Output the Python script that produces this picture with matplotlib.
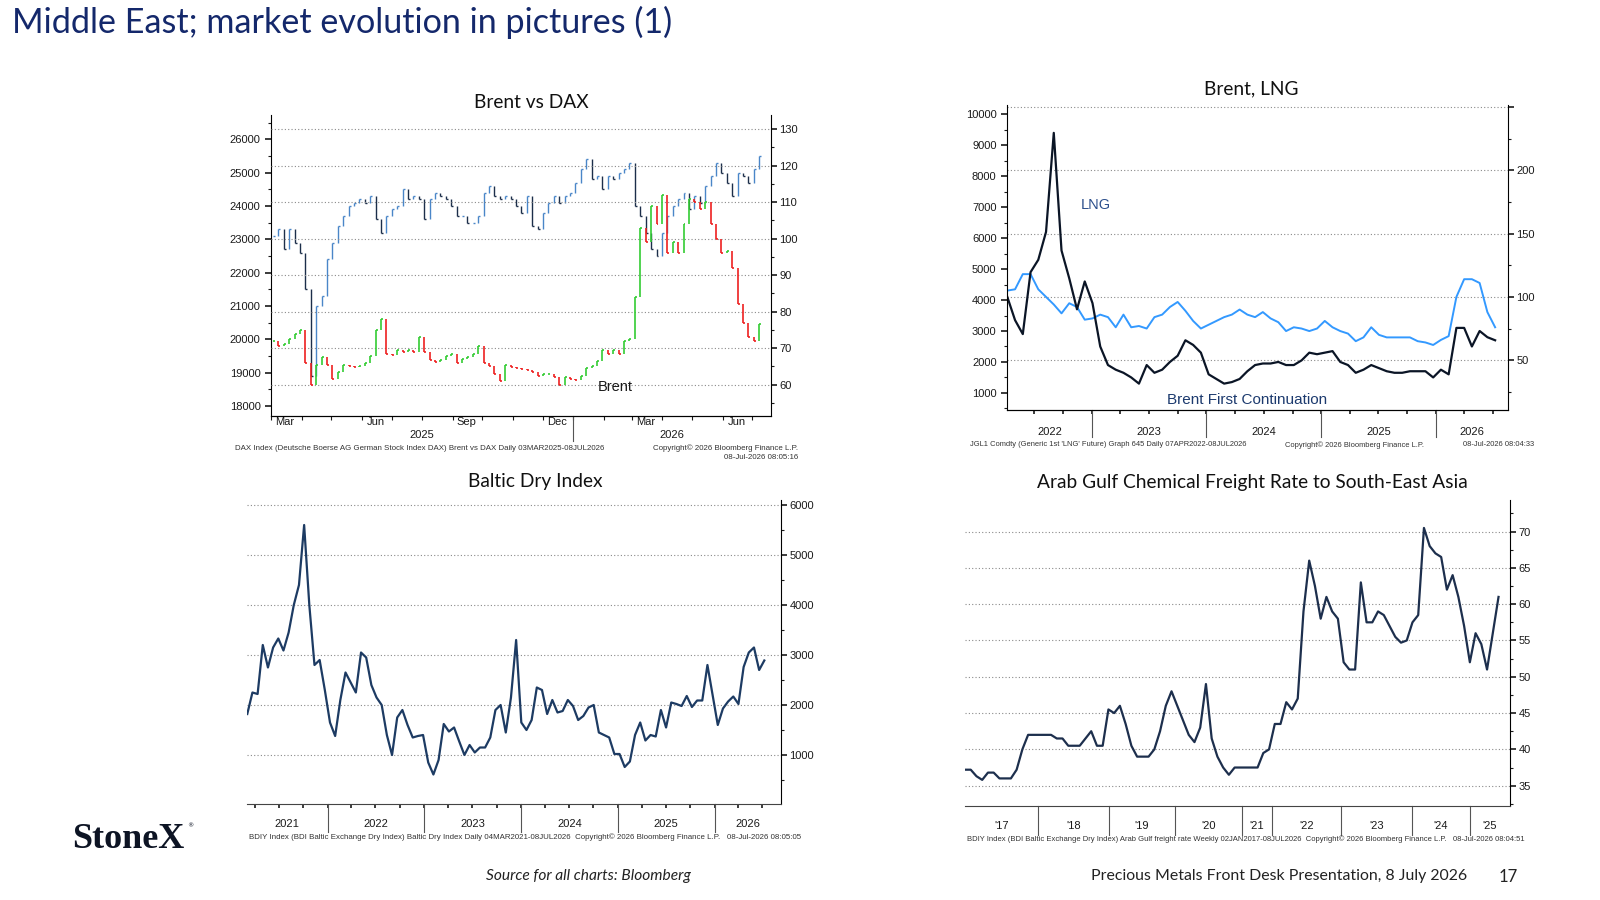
import numpy as np
import pandas as pd
import matplotlib
matplotlib.use("Agg")
import matplotlib.pyplot as plt
import matplotlib.dates as mdates
from matplotlib.ticker import MultipleLocator, FixedLocator

# ---- data ----
# Brent vs DAX, weekly-ish closes 03MAR2025-08JUL2026
dax_close = [23100, 23300, 22700, 23300, 22900, 22600, 21500, 18900, 21000, 21300,
             22400, 22900, 23400, 23700, 24000, 24100, 24200, 24100, 24300, 23600,
             23200, 23700, 23900, 24000, 24500, 24200, 24300, 24200, 23600, 24200,
             24400, 24300, 24200, 24000, 23700, 23700, 23500, 23500, 23700, 24400,
             24600, 24300, 24200, 24300, 24200, 24000, 23800, 24300, 23400, 23300,
             23800, 24100, 24300, 24100, 24300, 24400, 24700, 25100, 25400, 24800,
             24900, 24500, 24900, 24800, 25000, 25100, 25300, 24000, 23700, 23200,
             22700, 22500, 23200, 23700, 24000, 24200, 24400, 23900, 24300, 24100,
             24600, 24900, 25300, 25000, 24700, 24300, 25000, 24900, 24700, 25100,
             25500]
brent_close = [72.0, 70.5, 71.2, 72.5, 73.8, 75.0, 66.0, 60.0, 65.5, 67.5,
               65.5, 61.5, 63.5, 65.5, 65.0, 64.8, 65.2, 65.8, 67.8, 75.0,
               78.0, 68.5, 68.0, 69.5, 69.0, 69.5, 69.0, 73.0, 69.0, 66.8,
               66.3, 66.8, 67.8, 68.5, 66.0, 67.0, 67.5, 68.5, 70.5, 66.0,
               65.0, 63.0, 61.0, 65.5, 64.8, 64.5, 64.3, 63.9, 63.5, 62.5,
               63.0, 63.0, 62.2, 60.0, 62.0, 61.5, 61.2, 62.5, 64.5, 65.2,
               66.5, 69.5, 68.5, 69.4, 68.5, 72.0, 72.5, 84.0, 103.0, 99.0,
               109.0, 104.0, 112.0, 96.0, 99.0, 96.0, 104.0, 111.0, 110.0, 108.0,
               110.0, 104.0, 100.0, 96.0, 96.5, 92.0, 82.0, 77.0, 73.0, 72.0,
               76.5]

# Brent, LNG 07APR2022-08JUL2026
lng = [4100, 3350, 2900, 4900, 5300, 6200, 9400, 5600, 4700, 3700,
       4600, 3900, 2500, 1900, 1750, 1650, 1500, 1300, 1900, 1650,
       1750, 2000, 2200, 2700, 2550, 2300, 1600, 1450, 1300, 1350,
       1450, 1700, 1900, 1950, 1950, 2000, 1900, 1900, 2050, 2300,
       2250, 2300, 2350, 2000, 1900, 1650, 1750, 1900, 1800, 1700,
       1650, 1650, 1700, 1700, 1700, 1500, 1750, 1600, 3100, 3100,
       2500, 3000, 2800, 2700]
brent_first = [105, 106, 118, 118, 106, 100, 94, 87, 95, 92,
               82, 83, 86, 84, 76, 86, 76, 77, 75, 84,
               86, 92, 96, 89, 81, 75, 78, 81, 84, 86,
               90, 86, 84, 88, 83, 80, 73, 76, 75, 73,
               75, 81, 76, 73, 71, 65, 68, 76, 70, 68,
               68, 68, 68, 65, 64, 62, 66, 69, 100, 114,
               114, 111, 88, 76]

# Baltic Dry Index 04MAR2021-08JUL2026
bdi = [1820, 2250, 2220, 3200, 2750, 3150, 3330, 3090, 3450, 4000,
       4400, 5600, 4000, 2800, 2900, 2300, 1650, 1380, 2100, 2650,
       2450, 2250, 3050, 2950, 2400, 2150, 2000, 1400, 1000, 1750,
       1900, 1600, 1350, 1380, 1400, 850, 610, 900, 1620, 1470,
       1550, 1270, 1000, 1200, 1050, 1150, 1150, 1350, 1900, 2000,
       1450, 2150, 3300, 1650, 1500, 1700, 2350, 2300, 1820, 2100,
       1850, 1880, 2100, 1980, 1700, 1780, 1950, 2000, 1450, 1400,
       1350, 1020, 1020, 760, 870, 1400, 1650, 1290, 1400, 1370,
       1900, 1550, 2050, 2020, 1980, 2180, 1960, 2090, 2090, 2800,
       2200, 1600, 1930, 2070, 2170, 2020, 2760, 3050, 3150, 2700,
       2890]

# Arab Gulf chemical freight rate to SE Asia, weekly observations
freight = [37.2, 37.2, 36.3, 35.8, 36.8, 36.8, 36.0, 36.0, 36.0, 37.2,
           40.0, 42.0, 42.0, 42.0, 42.0, 42.0, 41.5, 41.5, 40.5, 40.5,
           40.5, 41.5, 42.5, 40.5, 40.5, 45.5, 45.0, 46.0, 43.5, 40.5,
           39.0, 39.0, 39.0, 40.0, 42.5, 46.0, 48.0, 46.0, 44.0, 42.0,
           41.0, 43.0, 49.0, 41.5, 39.0, 37.5, 36.5, 37.5, 37.5, 37.5,
           37.5, 37.5, 39.5, 40.0, 43.5, 43.5, 46.5, 45.5, 47.0, 59.0,
           66.0, 62.5, 58.0, 61.0, 59.0, 58.0, 52.0, 51.0, 51.0, 63.0,
           57.5, 57.5, 59.0, 58.5, 57.0, 55.5, 54.7, 55.0, 57.5, 58.5,
           70.5, 68.0, 67.0, 66.5, 62.0, 64.0, 61.0, 57.0, 52.0, 56.0,
           54.5, 51.0, 56.0, 61.0]
# observation index where each new year starts on the freight chart
freight_year_breaks = [12.67, 25.13, 36.6, 48.33, 53.53, 65.53, 77.87, 88.0]
freight_years = ["'17", "'18", "'19", "'20", "'21", "'22", "'23", "'24", "'25"]

W, H = 1600, 900
TICK_FONT = "Liberation Sans"
NAVY = "#14286b"
GRID = dict(color="#8a8a8a", linestyle=(0, (1, 2)), linewidth=0.8)


def rect(l, t, r, b):
    return [l / W, 1 - b / H, (r - l) / W, (b - t) / H]


def style_ticks(ax):
    ax.tick_params(which="both", direction="out", labelsize=8, colors="#1a1a1a")
    ax.tick_params(which="major", length=4, width=1.2)
    ax.tick_params(which="minor", length=2.5, width=0.8)
    for lab in ax.get_xticklabels() + ax.get_yticklabels():
        lab.set_family(TICK_FONT)


def year_marks(ax, breaks, labels, label_px, sep_px):
    x0, x1 = ax.get_xlim()
    h = ax.get_position().height * H
    tr = ax.get_xaxis_transform()
    edges = [x0] + list(breaks) + [x1]
    for b in breaks:
        ax.plot([b, b], [0, -sep_px / h], transform=tr, color="#555555",
                lw=0.8, clip_on=False)
    for lab, a, b in zip(labels, edges[:-1], edges[1:]):
        ax.text((a + b) / 2, -label_px / h, lab, transform=tr, ha="center",
                va="center", fontsize=8, family=TICK_FONT, color="#1a1a1a")


def bars(ax, x, close, up, down, lw=1.0):
    c = np.asarray(close, dtype=float)
    prev = np.r_[c[0], c[:-1]]
    col = np.where(c >= prev, up, down)
    ax.vlines(x, np.minimum(prev, c), np.maximum(prev, c), colors=col, lw=lw)
    ax.hlines(c, x, x + pd.Timedelta(days=2), colors=col, lw=lw)


def footer(x, y, s, ha="left", size=5.65):
    fig.text(x / W, 1 - y / H, s, ha=ha, va="center", fontsize=size,
             family=TICK_FONT, color="#333333")


def title(x, y, s):
    fig.text(x / W, 1 - y / H, s, ha="center", va="center", fontsize=13.8,
             family="Lato", color="#111111")


fig = plt.figure(figsize=(16, 9), dpi=100)
fig.patch.set_facecolor("white")

# ---------------- Brent vs DAX ----------------
ax1 = fig.add_axes(rect(271, 115, 771, 416))
ax1r = ax1.twinx()
d1 = pd.date_range("2025-03-03", "2026-07-08", periods=len(dax_close))
bars(ax1, d1, dax_close, "#4a86c8", "#1c2e4a")
bars(ax1r, d1, brent_close, "#33cc33", "#ee2020", lw=1.2)
ax1.set_xlim(pd.Timestamp("2025-03-01"), pd.Timestamp("2026-07-20"))
ax1.set_ylim(17695, 26733)
ax1r.set_ylim(51.4, 133.9)
ax1.yaxis.set_major_locator(MultipleLocator(1000))
ax1.yaxis.set_minor_locator(MultipleLocator(500))
ax1r.yaxis.set_major_locator(MultipleLocator(10))
ax1r.yaxis.set_minor_locator(MultipleLocator(5))
ax1r.grid(axis="y", which="major", **GRID)
ax1.xaxis.set_minor_locator(mdates.MonthLocator())
ax1.xaxis.set_major_locator(mdates.MonthLocator(bymonth=[3, 6, 9, 12], bymonthday=15))
ax1.xaxis.set_major_formatter(mdates.DateFormatter("%b"))
for a in (ax1, ax1r):
    a.spines["top"].set_visible(False)
ax1.spines["right"].set_visible(False)
ax1r.spines["left"].set_visible(False)
style_ticks(ax1)
style_ticks(ax1r)
ax1.tick_params(axis="x", which="major", length=0, pad=1)
ax1.tick_params(axis="x", which="minor", length=3)
ax1r.tick_params(axis="y", pad=2)
year_marks(ax1, [mdates.date2num(pd.Timestamp("2026-01-01"))], ["2025", "2026"], 19, 25)
ax1r.text(pd.Timestamp("2026-02-12"), 59.4, "Brent", ha="center", va="center",
          fontsize=10.5, family=TICK_FONT, color="#1a1a1a")
title(531, 102, "Brent vs DAX")
footer(235, 448, "DAX Index (Deutsche Boerse AG German Stock Index DAX) Brent vs DAX Daily 03MAR2025-08JUL2026")
footer(798, 448, "Copyright\u00a9 2026 Bloomberg Finance L.P.", ha="right")
footer(798, 458, "08-Jul-2026 08:05:16", ha="right")

# ---------------- Brent, LNG ----------------
ax2 = fig.add_axes(rect(1007, 105, 1508, 410))
ax2r = ax2.twinx()
ax2.set_zorder(ax2r.get_zorder() + 1)
ax2.patch.set_visible(False)
d2 = pd.date_range("2022-04-07", "2026-07-08", periods=len(lng))
ax2r.plot(d2, brent_first, color="#3399ff", lw=1.4)
ax2.plot(d2, lng, color="#0b1526", lw=1.6)
ax2.set_xlim(pd.Timestamp("2022-04-06"), pd.Timestamp("2026-08-18"))
ax2.set_ylim(448, 10300)
ax2r.set_ylim(10.6, 251.7)
ax2.yaxis.set_major_locator(MultipleLocator(1000))
ax2.yaxis.set_minor_locator(MultipleLocator(500))
ax2r.yaxis.set_major_locator(FixedLocator([50, 100, 150, 200, 250]))
ax2r.yaxis.set_minor_locator(MultipleLocator(25))
ax2r.set_yticklabels(["50", "100", "150", "200", ""])
ax2r.grid(axis="y", which="major", **GRID)
ax2.xaxis.set_major_locator(mdates.MonthLocator(bymonth=[1, 4, 7, 10]))
ax2.xaxis.set_major_formatter(plt.NullFormatter())
for a in (ax2, ax2r):
    a.spines["top"].set_visible(False)
ax2.spines["right"].set_visible(False)
ax2r.spines["left"].set_visible(False)
style_ticks(ax2)
style_ticks(ax2r)
ax2.tick_params(axis="x", which="major", length=3)
ax2r.tick_params(axis="y", pad=2)
y2 = [mdates.date2num(pd.Timestamp(f"{y}-01-01")) for y in range(2023, 2027)]
year_marks(ax2, y2, ["2022", "2023", "2024", "2025", "2026"], 22, 27)
ax2.text(pd.Timestamp("2023-01-13"), 7070, "LNG", ha="center", va="center",
         fontsize=10.5, family=TICK_FONT, color="#2c4f8c")
ax2.text(pd.Timestamp("2024-05-10"), 770, "Brent First Continuation", ha="center",
         va="center", fontsize=11, family=TICK_FONT, color="#1c3a6e")
title(1251, 89, "Brent, LNG")
footer(970, 445, "JGL1 Comdty (Generic 1st 'LNG' Future) Graph 645 Daily 07APR2022-08JUL2026", size=5.4)
footer(1285, 445, "Copyright\u00a9 2026 Bloomberg Finance L.P.", size=5.4)
footer(1534, 445, "08-Jul-2026 08:04:33", ha="right", size=5.4)

# ---------------- Baltic Dry Index ----------------
ax3 = fig.add_axes(rect(247, 500, 781, 804))
d3 = pd.date_range("2021-03-04", "2026-07-08", periods=len(bdi))
ax3.plot(d3, bdi, color="#1d3b63", lw=1.6)
ax3.set_xlim(pd.Timestamp("2021-03-03"), pd.Timestamp("2026-09-09"))
ax3.set_ylim(20, 6100)
ax3.yaxis.tick_right()
ax3.yaxis.set_major_locator(MultipleLocator(1000))
ax3.yaxis.set_minor_locator(MultipleLocator(500))
ax3.grid(axis="y", which="major", **GRID)
ax3.xaxis.set_major_locator(mdates.MonthLocator(bymonth=[1, 4, 7, 10]))
ax3.xaxis.set_major_formatter(plt.NullFormatter())
ax3.spines["top"].set_visible(False)
ax3.spines["left"].set_visible(False)
ax3.spines["bottom"].set_color("#444444")
style_ticks(ax3)
ax3.tick_params(axis="x", which="major", length=3)
ax3.tick_params(axis="y", pad=2)
y3 = [mdates.date2num(pd.Timestamp(f"{y}-01-01")) for y in range(2022, 2027)]
year_marks(ax3, y3, [str(y) for y in range(2021, 2027)], 20, 28)
title(535, 482, "Baltic Dry Index")
footer(249, 837, "BDIY Index (BDI Baltic Exchange Dry Index) Baltic Dry Index Daily 04MAR2021-08JUL2026  "
       "Copyright\u00a9 2026 Bloomberg Finance L.P.   08-Jul-2026 08:05:05", size=5.7)

# ---------------- Arab Gulf freight ----------------
ax4 = fig.add_axes(rect(965, 500, 1510, 806))
ax4.plot(np.arange(len(freight)), freight, color="#1d2f4d", lw=1.6)
ax4.set_xlim(0, 95)
ax4.set_ylim(32.2, 74.35)
ax4.yaxis.tick_right()
ax4.yaxis.set_major_locator(FixedLocator([35, 40, 45, 50, 55, 60, 65, 70]))
ax4.yaxis.set_minor_locator(FixedLocator([32.5, 37.5, 42.5, 47.5, 52.5, 57.5, 62.5, 67.5, 72.5]))
ax4.grid(axis="y", which="major", **GRID)
ax4.set_xticks([])
ax4.spines["top"].set_visible(False)
ax4.spines["left"].set_visible(False)
ax4.spines["bottom"].set_color("#444444")
style_ticks(ax4)
ax4.tick_params(axis="y", pad=2)
year_marks(ax4, freight_year_breaks, freight_years, 20, 29)
title(1252, 483, "Arab Gulf Chemical Freight Rate to South-East Asia")
footer(967, 839, "BDIY Index (BDI Baltic Exchange Dry Index) Arab Gulf freight rate Weekly 02JAN2017-08JUL2026  "
       "Copyright\u00a9 2026 Bloomberg Finance L.P.   08-Jul-2026 08:04:51", size=5.5)

# ---------------- page furniture ----------------
fig.text(12 / W, 1 - 22 / H, "Middle East; market evolution in pictures (1)", ha="left",
         va="center", fontsize=24.6, family="Lato", color=NAVY)
fig.text(72 / W, 1 - 839 / H, "StoneX", ha="left", va="center", fontsize=26,
         family="Liberation Serif", weight="bold", color="#0d1424")
fig.text(187 / W, 1 - 826 / H, "\u00ae", ha="left", va="center", fontsize=4.5,
         family="DejaVu Sans", color="#0d1424")
fig.text(588 / W, 1 - 876 / H, "Source for all charts: Bloomberg", ha="center", va="center",
         fontsize=11.2, family="Lato", style="italic", color="#222222")
fig.text(1467 / W, 1 - 876 / H, "Precious Metals Front Desk Presentation, 8 July 2026", ha="right",
         va="center", fontsize=11.4, family="Lato", color="#222222")
fig.text(1508 / W, 1 - 877 / H, "17", ha="center", va="center", fontsize=12,
         family="Lato", color="#222222")

fig.savefig("out.png", dpi=100)
